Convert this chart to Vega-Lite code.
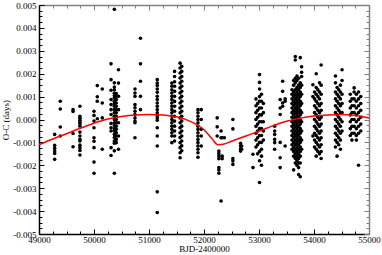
{
  "$schema": "https://vega.github.io/schema/vega-lite/v6.json",
  "width": 330,
  "height": 229,
  "autosize": {"type": "none"},
  "padding": {"left": 39, "top": 5, "right": 13, "bottom": 21},
  "background": "white",
  "config": {
    "view": {"stroke": null},
    "font": "Liberation Serif",
    "axis": {"grid": false, "labelFont": "Liberation Serif", "titleFont": "Liberation Serif", "labelFontSize": 9, "titleFontSize": 9, "titleFontWeight": "normal", "labelColor": "black", "titleColor": "black", "domainColor": "black", "tickColor": "black", "labelFlush": false, "labelOverlap": false, "labelBound": false}
  },
  "datasets": {
    "obs": [
      {"t":49285,"oc":-0.00065},{"t":49285,"oc":-0.00113},{"t":49285,"oc":-0.00126},{"t":49285,"oc":-0.00138},{"t":49285,"oc":-0.00148},{"t":49285,"oc":-0.00174},
      {"t":49387,"oc":0.0008},{"t":49387,"oc":0.00046},{"t":49387,"oc":-0.00033},{"t":49387,"oc":-0.00072},
      {"t":49619,"oc":0.00043},{"t":49619,"oc":0.00035},{"t":49619,"oc":-0.00061},{"t":49619,"oc":-0.00119},
      {"t":49744,"oc":0.00058},{"t":49744,"oc":0.00014},{"t":49744,"oc":0.00006},{"t":49744,"oc":-0.00003},{"t":49744,"oc":-0.00012},{"t":49744,"oc":-0.0002},{"t":49744,"oc":-0.00029},{"t":49744,"oc":-0.00055},{"t":49744,"oc":-0.00072},{"t":49744,"oc":-0.00087},{"t":49744,"oc":-0.00094},{"t":49744,"oc":-0.00112},{"t":49744,"oc":-0.00123},{"t":49744,"oc":-0.00135},{"t":49744,"oc":-0.00155},
      {"t":50000,"oc":0.00036},{"t":50000,"oc":0.00018},{"t":50000,"oc":-0.00007},{"t":50000,"oc":-0.00036},{"t":50000,"oc":-0.0008},{"t":50000,"oc":-0.00095},{"t":50000,"oc":-0.00123},{"t":50000,"oc":-0.00186},{"t":50000,"oc":-0.00235},
      {"t":50060,"oc":0.00148},{"t":50060,"oc":0.00099},{"t":50060,"oc":0.0008},{"t":50060,"oc":0.00003},
      {"t":50150,"oc":0.00133},{"t":50150,"oc":0.00072},{"t":50150,"oc":0.00007},{"t":50150,"oc":-0.0013},
      {"t":50310,"oc":0.00243},{"t":50310,"oc":0.00174},{"t":50310,"oc":0.00128},{"t":50310,"oc":0.00087},{"t":50310,"oc":0.00065},{"t":50310,"oc":0.00043},{"t":50310,"oc":0.00022},{"t":50310,"oc":-0.00017},{"t":50310,"oc":-0.00036},{"t":50310,"oc":-0.0005},{"t":50310,"oc":-0.00123},{"t":50310,"oc":-0.00157},
      {"t":50370,"oc":0.00481},{"t":50370,"oc":0.0016},{"t":50370,"oc":0.00142},{"t":50370,"oc":0.0013},{"t":50370,"oc":0.00115},{"t":50370,"oc":0.00104},{"t":50370,"oc":0.00094},{"t":50370,"oc":0.0008},{"t":50370,"oc":0.0007},{"t":50370,"oc":0.00058},{"t":50370,"oc":0.00043},{"t":50370,"oc":0.00029},{"t":50370,"oc":0.00014},{"t":50370,"oc":0},{"t":50370,"oc":-0.00014},{"t":50370,"oc":-0.00026},{"t":50370,"oc":-0.0004},{"t":50370,"oc":-0.0005},{"t":50370,"oc":-0.00065},{"t":50370,"oc":-0.00079},{"t":50370,"oc":-0.00094},{"t":50370,"oc":-0.00104},{"t":50370,"oc":-0.00137},{"t":50370,"oc":-0.00235},
      {"t":50405,"oc":0.00113},{"t":50405,"oc":0.00087},{"t":50405,"oc":0.00058},{"t":50405,"oc":0.00029},{"t":50405,"oc":0},{"t":50405,"oc":-0.00029},{"t":50405,"oc":-0.00058},{"t":50405,"oc":-0.00087},{"t":50405,"oc":-0.00101},{"t":50405,"oc":0.00101},{"t":50405,"oc":0.00072},{"t":50405,"oc":0.00043},{"t":50405,"oc":0.00014},{"t":50405,"oc":-0.00014},{"t":50405,"oc":-0.00043},{"t":50405,"oc":-0.00072},
      {"t":50445,"oc":0.00217},{"t":50445,"oc":0.00159},{"t":50445,"oc":0.00101},{"t":50445,"oc":0.00043},{"t":50445,"oc":-0.00014},{"t":50445,"oc":-0.00072},{"t":50445,"oc":-0.0013},
      {"t":50745,"oc":0.00133},{"t":50745,"oc":0.00116},{"t":50745,"oc":0.00101},{"t":50745,"oc":0.00065},{"t":50745,"oc":0.00051},{"t":50745,"oc":0.00036},{"t":50745,"oc":0.00022},{"t":50745,"oc":0.00007},{"t":50745,"oc":-0.00007},{"t":50745,"oc":-0.00014},{"t":50745,"oc":-0.0008},
      {"t":50845,"oc":0.00355},{"t":50845,"oc":0.00243},{"t":50845,"oc":0.00167},{"t":50845,"oc":0.00101},{"t":50845,"oc":0.00043},
      {"t":51150,"oc":0.00174},{"t":51150,"oc":0.00159},{"t":51150,"oc":0.00148},{"t":51150,"oc":0.00133},{"t":51150,"oc":0.00119},{"t":51150,"oc":0.00101},{"t":51150,"oc":0.00087},{"t":51150,"oc":0.00072},{"t":51150,"oc":0.00058},{"t":51150,"oc":0.00043},{"t":51150,"oc":0.00029},{"t":51150,"oc":0.00017},{"t":51150,"oc":0.00007},{"t":51150,"oc":-0.00003},{"t":51150,"oc":-0.00036},{"t":51150,"oc":-0.00072},{"t":51150,"oc":-0.00116},{"t":51150,"oc":-0.00316},{"t":51150,"oc":-0.00406},
      {"t":51415,"oc":0.00159},{"t":51415,"oc":0.00145},{"t":51415,"oc":0.0013},{"t":51415,"oc":0.00116},{"t":51415,"oc":0.00101},{"t":51415,"oc":0.00087},{"t":51415,"oc":0.00072},{"t":51415,"oc":0.00058},{"t":51415,"oc":0.00043},{"t":51415,"oc":0.00029},{"t":51415,"oc":0.00014},{"t":51415,"oc":0},{"t":51415,"oc":-0.00014},{"t":51415,"oc":-0.00029},{"t":51415,"oc":-0.00043},{"t":51415,"oc":-0.00058},{"t":51415,"oc":-0.00072},{"t":51415,"oc":-0.00101},
      {"t":51465,"oc":0.0021},{"t":51465,"oc":0.00188},{"t":51465,"oc":0.00165},{"t":51465,"oc":0.00145},{"t":51465,"oc":0.00123},{"t":51465,"oc":0.00101},{"t":51465,"oc":0.00079},{"t":51465,"oc":0.00058},{"t":51465,"oc":0.00036},{"t":51465,"oc":0.00014},{"t":51465,"oc":-0.00007},{"t":51465,"oc":-0.00029},{"t":51465,"oc":-0.0005},{"t":51465,"oc":-0.00072},{"t":51465,"oc":-0.00094},
      {"t":51565,"oc":0.00246},{"t":51565,"oc":0.00225},{"t":51565,"oc":0.00203},{"t":51565,"oc":0.00181},{"t":51565,"oc":0.00159},{"t":51565,"oc":0.00138},{"t":51565,"oc":0.00116},{"t":51565,"oc":0.00094},{"t":51565,"oc":0.00072},{"t":51565,"oc":0.0005},{"t":51565,"oc":0.00029},{"t":51565,"oc":0.00007},{"t":51565,"oc":-0.00014},{"t":51565,"oc":-0.00036},{"t":51565,"oc":-0.00058},{"t":51565,"oc":-0.00079},{"t":51565,"oc":-0.00101},{"t":51565,"oc":-0.00123},{"t":51565,"oc":-0.00145},{"t":51565,"oc":-0.00167},
      {"t":51595,"oc":0.00232},{"t":51595,"oc":0.0021},{"t":51595,"oc":0.00188},{"t":51595,"oc":0.00167},{"t":51595,"oc":0.00145},{"t":51595,"oc":0.00123},{"t":51595,"oc":0.00101},{"t":51595,"oc":0.0008},{"t":51595,"oc":0.00058},{"t":51595,"oc":0.00036},{"t":51595,"oc":0.00014},{"t":51595,"oc":-0.00007},{"t":51595,"oc":-0.00029},{"t":51595,"oc":-0.0005},{"t":51595,"oc":-0.00072},{"t":51595,"oc":-0.00094},{"t":51595,"oc":-0.00115},{"t":51595,"oc":-0.00137},
      {"t":51890,"oc":0.00043},{"t":51890,"oc":0.00029},{"t":51890,"oc":0.00014},{"t":51890,"oc":0},{"t":51890,"oc":-0.00014},{"t":51890,"oc":-0.00029},{"t":51890,"oc":-0.00043},{"t":51890,"oc":-0.00058},{"t":51890,"oc":-0.00072},{"t":51890,"oc":-0.00087},{"t":51890,"oc":-0.00101},{"t":51890,"oc":-0.00116},{"t":51890,"oc":-0.0013},{"t":51890,"oc":-0.00145},{"t":51890,"oc":-0.00165},
      {"t":51950,"oc":0.00043},{"t":51950,"oc":0},{"t":51950,"oc":-0.00043},{"t":51950,"oc":-0.00072},{"t":51950,"oc":-0.00116},
      {"t":52240,"oc":0.00007},{"t":52240,"oc":-0.00032},{"t":52240,"oc":-0.00072},
      {"t":52270,"oc":-0.00138},{"t":52270,"oc":-0.00148},{"t":52270,"oc":-0.00159},{"t":52270,"oc":-0.00171},{"t":52270,"oc":-0.0021},{"t":52270,"oc":-0.0022},{"t":52270,"oc":-0.00235},
      {"t":52310,"oc":-0.0005},{"t":52310,"oc":-0.0008},{"t":52310,"oc":-0.00356},
      {"t":52330,"oc":-0.0008},{"t":52330,"oc":-0.0016},{"t":52330,"oc":-0.00171},
      {"t":52370,"oc":-0.0008},
      {"t":52525,"oc":0},{"t":52525,"oc":-0.00041},{"t":52525,"oc":-0.00171},{"t":52525,"oc":-0.00181},{"t":52525,"oc":-0.00196},
      {"t":52665,"oc":-0.00104},{"t":52665,"oc":-0.00116},{"t":52665,"oc":-0.00128},{"t":52665,"oc":-0.00138},
      {"t":52685,"oc":-0.00116},{"t":52685,"oc":-0.0013},
      {"t":52890,"oc":-0.00152},{"t":52890,"oc":-0.0021},
      {"t":52945,"oc":0.0009},{"t":52945,"oc":0.0006},{"t":52945,"oc":0.0003},{"t":52945,"oc":0},{"t":52945,"oc":-0.0003},{"t":52945,"oc":-0.0006},{"t":52945,"oc":-0.0009},{"t":52945,"oc":-0.0012},
      {"t":52975,"oc":0.0007},{"t":52975,"oc":0.0004},{"t":52975,"oc":0.0001},{"t":52975,"oc":-0.0002},{"t":52975,"oc":-0.0005},{"t":52975,"oc":-0.0008},{"t":52975,"oc":-0.0011},{"t":52975,"oc":-0.0015},
      {"t":53010,"oc":0.00196},{"t":53010,"oc":0.00162},{"t":53010,"oc":0.00133},{"t":53010,"oc":0.001},{"t":53010,"oc":0.0008},{"t":53010,"oc":0.0005},{"t":53010,"oc":0.0002},{"t":53010,"oc":-0.0001},{"t":53010,"oc":-0.0004},{"t":53010,"oc":-0.0007},{"t":53010,"oc":-0.001},{"t":53010,"oc":-0.0014},{"t":53010,"oc":-0.0018},{"t":53010,"oc":-0.00275},
      {"t":53045,"oc":0.0011},{"t":53045,"oc":0.0008},{"t":53045,"oc":0.0005},{"t":53045,"oc":0.0002},{"t":53045,"oc":-0.0001},{"t":53045,"oc":-0.0004},{"t":53045,"oc":-0.0007},{"t":53045,"oc":-0.001},{"t":53045,"oc":-0.0013},{"t":53045,"oc":-0.0016},{"t":53045,"oc":-0.002},
      {"t":53080,"oc":0.0007},{"t":53080,"oc":0.0003},{"t":53080,"oc":-0.0001},{"t":53080,"oc":-0.0005},{"t":53080,"oc":-0.0009},
      {"t":53285,"oc":-0.00029},{"t":53285,"oc":-0.0005},{"t":53285,"oc":-0.00065},{"t":53285,"oc":-0.00087},{"t":53285,"oc":-0.00101},{"t":53285,"oc":-0.0013},
      {"t":53385,"oc":0.00087},{"t":53385,"oc":0.0005},{"t":53385,"oc":0.00022},{"t":53385,"oc":-0.001},{"t":53385,"oc":-0.00167},{"t":53385,"oc":-0.0021},
      {"t":53430,"oc":0.00167},{"t":53430,"oc":0.00123},{"t":53430,"oc":0.00072},{"t":53430,"oc":0.00058},
      {"t":53475,"oc":0.0009},{"t":53475,"oc":0.0008},{"t":53475,"oc":-0.00116},
      {"t":53600,"oc":0.0013},{"t":53600,"oc":0.0011},{"t":53600,"oc":0.0009},{"t":53600,"oc":0.0007},{"t":53600,"oc":0.0005},{"t":53600,"oc":0.0003},{"t":53600,"oc":0.0001},{"t":53600,"oc":-0.0001},{"t":53600,"oc":-0.0003},{"t":53600,"oc":-0.0005},{"t":53600,"oc":-0.0007},{"t":53600,"oc":-0.0009},{"t":53600,"oc":-0.0011},{"t":53600,"oc":-0.0013},
      {"t":53630,"oc":0.0017},{"t":53630,"oc":0.0015},{"t":53630,"oc":0.0012},{"t":53630,"oc":0.001},{"t":53630,"oc":0.0008},{"t":53630,"oc":0.0006},{"t":53630,"oc":0.0004},{"t":53630,"oc":0.0002},{"t":53630,"oc":0},{"t":53630,"oc":-0.0002},{"t":53630,"oc":-0.0004},{"t":53630,"oc":-0.0006},{"t":53630,"oc":-0.0008},{"t":53630,"oc":-0.001},{"t":53630,"oc":-0.0012},{"t":53630,"oc":-0.0014},{"t":53630,"oc":-0.0016},{"t":53630,"oc":-0.0022},
      {"t":53660,"oc":0.00275},{"t":53660,"oc":0.0026},{"t":53660,"oc":0.0018},{"t":53660,"oc":0.0016},{"t":53660,"oc":0.0013},{"t":53660,"oc":0.0011},{"t":53660,"oc":0.0009},{"t":53660,"oc":0.0007},{"t":53660,"oc":0.0005},{"t":53660,"oc":0.0003},{"t":53660,"oc":0.0001},{"t":53660,"oc":-0.0001},{"t":53660,"oc":-0.0003},{"t":53660,"oc":-0.0005},{"t":53660,"oc":-0.0007},{"t":53660,"oc":-0.0009},{"t":53660,"oc":-0.0011},{"t":53660,"oc":-0.0013},{"t":53660,"oc":-0.0015},{"t":53660,"oc":-0.0017},{"t":53660,"oc":-0.0019},
      {"t":53690,"oc":0.0019},{"t":53690,"oc":0.0017},{"t":53690,"oc":0.0014},{"t":53690,"oc":0.0012},{"t":53690,"oc":0.001},{"t":53690,"oc":0.0008},{"t":53690,"oc":0.0006},{"t":53690,"oc":0.0004},{"t":53690,"oc":0.0002},{"t":53690,"oc":0},{"t":53690,"oc":-0.0002},{"t":53690,"oc":-0.0004},{"t":53690,"oc":-0.0006},{"t":53690,"oc":-0.0008},{"t":53690,"oc":-0.001},{"t":53690,"oc":-0.0012},{"t":53690,"oc":-0.0014},{"t":53690,"oc":-0.0016},{"t":53690,"oc":-0.0018},{"t":53690,"oc":-0.002},
      {"t":53720,"oc":0.0018},{"t":53720,"oc":0.0015},{"t":53720,"oc":0.0013},{"t":53720,"oc":0.0011},{"t":53720,"oc":0.0009},{"t":53720,"oc":0.0007},{"t":53720,"oc":0.0005},{"t":53720,"oc":0.0003},{"t":53720,"oc":0.0001},{"t":53720,"oc":-0.0001},{"t":53720,"oc":-0.0003},{"t":53720,"oc":-0.0005},{"t":53720,"oc":-0.0007},{"t":53720,"oc":-0.0009},{"t":53720,"oc":-0.0011},{"t":53720,"oc":-0.0013},{"t":53720,"oc":-0.0015},{"t":53720,"oc":-0.0017},{"t":53720,"oc":-0.0019},{"t":53720,"oc":-0.0021},{"t":53720,"oc":-0.0024},
      {"t":53750,"oc":0.0027},{"t":53750,"oc":0.0016},{"t":53750,"oc":0.0014},{"t":53750,"oc":0.0012},{"t":53750,"oc":0.001},{"t":53750,"oc":0.0008},{"t":53750,"oc":0.0006},{"t":53750,"oc":0.0004},{"t":53750,"oc":0.0002},{"t":53750,"oc":0},{"t":53750,"oc":-0.0002},{"t":53750,"oc":-0.0004},{"t":53750,"oc":-0.0006},{"t":53750,"oc":-0.0008},{"t":53750,"oc":-0.001},{"t":53750,"oc":-0.0012},{"t":53750,"oc":-0.0014},{"t":53750,"oc":-0.0016},{"t":53750,"oc":-0.0019},{"t":53750,"oc":-0.0025},
      {"t":53775,"oc":0.0023},{"t":53775,"oc":0.00206},{"t":53775,"oc":0.00188},{"t":53775,"oc":0.0015},{"t":53775,"oc":0.0011},{"t":53775,"oc":0.0007},{"t":53775,"oc":0.0003},{"t":53775,"oc":-0.0001},{"t":53775,"oc":-0.0005},{"t":53775,"oc":-0.0009},{"t":53775,"oc":-0.0013},
      {"t":53980,"oc":0.00152},{"t":53980,"oc":0.001},{"t":53980,"oc":-0.00072},
      {"t":54010,"oc":0.0012},{"t":54010,"oc":0.0009},{"t":54010,"oc":0.0006},{"t":54010,"oc":0.0003},{"t":54010,"oc":0},{"t":54010,"oc":-0.0003},{"t":54010,"oc":-0.0006},{"t":54010,"oc":-0.0009},{"t":54010,"oc":-0.0012},
      {"t":54040,"oc":0.002},{"t":54040,"oc":0.0014},{"t":54040,"oc":0.0011},{"t":54040,"oc":0.0008},{"t":54040,"oc":0.0005},{"t":54040,"oc":0.0002},{"t":54040,"oc":-0.0001},{"t":54040,"oc":-0.0004},{"t":54040,"oc":-0.0007},{"t":54040,"oc":-0.001},{"t":54040,"oc":-0.0013},{"t":54040,"oc":-0.0016},
      {"t":54070,"oc":0.0013},{"t":54070,"oc":0.001},{"t":54070,"oc":0.0007},{"t":54070,"oc":0.0004},{"t":54070,"oc":0.0001},{"t":54070,"oc":-0.0002},{"t":54070,"oc":-0.0005},{"t":54070,"oc":-0.0008},{"t":54070,"oc":-0.0011},{"t":54070,"oc":-0.0014},
      {"t":54100,"oc":0.0016},{"t":54100,"oc":0.0012},{"t":54100,"oc":0.0009},{"t":54100,"oc":0.0006},{"t":54100,"oc":0.0003},{"t":54100,"oc":0},{"t":54100,"oc":-0.0003},{"t":54100,"oc":-0.0006},{"t":54100,"oc":-0.0009},{"t":54100,"oc":-0.0012},{"t":54100,"oc":-0.0015},
      {"t":54130,"oc":0.00238},{"t":54130,"oc":0.0015},{"t":54130,"oc":0.0011},{"t":54130,"oc":0.0007},{"t":54130,"oc":0.0004},{"t":54130,"oc":0.0001},{"t":54130,"oc":-0.0002},{"t":54130,"oc":-0.0005},{"t":54130,"oc":-0.0008},{"t":54130,"oc":-0.0011},{"t":54130,"oc":-0.0014},{"t":54130,"oc":-0.0017},
      {"t":54390,"oc":0.0019},{"t":54390,"oc":0.0016},{"t":54390,"oc":0.0012},{"t":54390,"oc":0.0009},{"t":54390,"oc":0.0006},{"t":54390,"oc":0.0003},{"t":54390,"oc":0},{"t":54390,"oc":-0.0003},{"t":54390,"oc":-0.0006},{"t":54390,"oc":-0.0009},{"t":54390,"oc":-0.0012},
      {"t":54420,"oc":0.0014},{"t":54420,"oc":0.0011},{"t":54420,"oc":0.0008},{"t":54420,"oc":0.0005},{"t":54420,"oc":0.0002},{"t":54420,"oc":-0.0001},{"t":54420,"oc":-0.0004},{"t":54420,"oc":-0.0007},{"t":54420,"oc":-0.001},{"t":54420,"oc":-0.0016},
      {"t":54450,"oc":0.0013},{"t":54450,"oc":0.001},{"t":54450,"oc":0.0007},{"t":54450,"oc":0.0004},{"t":54450,"oc":0.0001},{"t":54450,"oc":-0.0002},{"t":54450,"oc":-0.0005},{"t":54450,"oc":-0.0008},{"t":54450,"oc":-0.0011},
      {"t":54480,"oc":0.0015},{"t":54480,"oc":0.0012},{"t":54480,"oc":0.0009},{"t":54480,"oc":0.0006},{"t":54480,"oc":0.0003},{"t":54480,"oc":0},{"t":54480,"oc":-0.0003},{"t":54480,"oc":-0.0006},{"t":54480,"oc":-0.0009},{"t":54480,"oc":-0.0013},
      {"t":54510,"oc":0.00217},{"t":54510,"oc":0.0017},{"t":54510,"oc":0.0011},{"t":54510,"oc":0.0007},{"t":54510,"oc":0.0003},{"t":54510,"oc":-0.0001},{"t":54510,"oc":-0.0005},
      {"t":54660,"oc":0.0011},{"t":54660,"oc":0.0008},{"t":54660,"oc":0.0005},{"t":54660,"oc":0.0002},{"t":54660,"oc":-0.0001},{"t":54660,"oc":-0.0004},{"t":54660,"oc":-0.0007},
      {"t":54690,"oc":0.0009},{"t":54690,"oc":0.0006},{"t":54690,"oc":0.0003},{"t":54690,"oc":0},{"t":54690,"oc":-0.0003},{"t":54690,"oc":-0.0006},{"t":54690,"oc":-0.0009},
      {"t":54730,"oc":0.00138},{"t":54730,"oc":0.0012},{"t":54730,"oc":0.0009},{"t":54730,"oc":0.0006},{"t":54730,"oc":0.0003},{"t":54730,"oc":0},{"t":54730,"oc":-0.0003},{"t":54730,"oc":-0.0006},
      {"t":54770,"oc":0.0011},{"t":54770,"oc":0.0008},{"t":54770,"oc":0.0005},{"t":54770,"oc":0.0002},{"t":54770,"oc":-0.0001},{"t":54770,"oc":-0.0004},{"t":54770,"oc":-0.0007},{"t":54770,"oc":-0.0009},
      {"t":54810,"oc":0.0012},{"t":54810,"oc":0.0009},{"t":54810,"oc":0.0006},{"t":54810,"oc":0.0003},{"t":54810,"oc":0},{"t":54810,"oc":-0.0003},{"t":54810,"oc":-0.0006},{"t":54810,"oc":-0.002},
      {"t":54850,"oc":0.001},{"t":54850,"oc":0.0007},{"t":54850,"oc":0.0004},{"t":54850,"oc":0.0001},{"t":54850,"oc":-0.0002},{"t":54850,"oc":-0.0005}
    ],
    "fit": [
      {"t":49000,"oc":-0.0011},{"t":49250,"oc":-0.00085},{"t":49500,"oc":-0.00062},{"t":49750,"oc":-0.00038},{"t":50000,"oc":-0.00016},{"t":50250,"oc":0.00002},{"t":50500,"oc":0.00013},{"t":50750,"oc":0.0002},{"t":51000,"oc":0.00022},{"t":51250,"oc":0.0002},{"t":51500,"oc":0.00012},{"t":51750,"oc":-0.00008},{"t":52000,"oc":-0.00045},{"t":52150,"oc":-0.00085},{"t":52250,"oc":-0.0011},{"t":52350,"oc":-0.00108},{"t":52500,"oc":-0.00095},{"t":52750,"oc":-0.00073},{"t":53000,"oc":-0.00051},{"t":53250,"oc":-0.00028},{"t":53500,"oc":-0.00008},{"t":53750,"oc":0.00006},{"t":54000,"oc":0.00015},{"t":54250,"oc":0.0002},{"t":54500,"oc":0.00022},{"t":54750,"oc":0.00017},{"t":55000,"oc":0.00007}
    ]
  },
  "layer": [
    {
      "data": {"name": "obs"},
      "mark": {"type": "circle", "size": 13, "color": "black", "opacity": 1},
      "encoding": {
        "x": {"field": "t", "type": "quantitative", "scale": {"domain": [49000, 55000], "nice": false, "zero": false},
          "axis": {"orient": "bottom", "title": "BJD-2400000", "titlePadding": -2,
            "values": [49000,49250,49500,49750,50000,50250,50500,50750,51000,51250,51500,51750,52000,52250,52500,52750,53000,53250,53500,53750,54000,54250,54500,54750,55000],
            "labelExpr": "datum.value % 1000 === 0 ? format(datum.value, 'd') : ''",
            "tickSize": {"condition": {"test": "datum.value % 1000 === 0", "value": -5}, "value": -3},
            "labelPadding": 6, "domainWidth": 1.5, "tickWidth": 1}},
        "y": {"field": "oc", "type": "quantitative", "scale": {"domain": [-0.005, 0.005], "nice": false, "zero": false},
          "axis": {"orient": "left", "title": "O-C (days)", "titlePadding": 2,
            "values": [-0.005,-0.00475,-0.0045,-0.00425,-0.004,-0.00375,-0.0035,-0.00325,-0.003,-0.00275,-0.0025,-0.00225,-0.002,-0.00175,-0.0015,-0.00125,-0.001,-0.00075,-0.0005,-0.00025,0,0.00025,0.0005,0.00075,0.001,0.00125,0.0015,0.00175,0.002,0.00225,0.0025,0.00275,0.003,0.00325,0.0035,0.00375,0.004,0.00425,0.0045,0.00475,0.005],
            "labelExpr": "abs(datum.value*1000 - round(datum.value*1000)) < 0.001 ? replace(format(datum.value, '.3f'), '\u2212', '-') : ''",
            "tickSize": {"condition": {"test": "abs(datum.value*1000 - round(datum.value*1000)) < 0.001", "value": -5}, "value": -3},
            "labelPadding": 8, "domainWidth": 1.5, "tickWidth": 1}}
      }
    },
    {
      "data": {"name": "fit"},
      "mark": {"type": "line", "color": "#ff0000", "strokeWidth": 1.5, "interpolate": "monotone"},
      "encoding": {
        "x": {"field": "t", "type": "quantitative",
          "axis": {"orient": "top", "title": null, "labels": false, "domainColor": "#808080", "tickColor": "#808080", "domainWidth": 1.5,
            "values": [49000,49250,49500,49750,50000,50250,50500,50750,51000,51250,51500,51750,52000,52250,52500,52750,53000,53250,53500,53750,54000,54250,54500,54750,55000],
            "tickSize": {"condition": {"test": "datum.value % 1000 === 0", "value": -5}, "value": -3}}},
        "y": {"field": "oc", "type": "quantitative",
          "axis": {"orient": "right", "title": null, "labels": false, "domainColor": "#808080", "tickColor": "#808080", "domainWidth": 1.5,
            "values": [-0.005,-0.00475,-0.0045,-0.00425,-0.004,-0.00375,-0.0035,-0.00325,-0.003,-0.00275,-0.0025,-0.00225,-0.002,-0.00175,-0.0015,-0.00125,-0.001,-0.00075,-0.0005,-0.00025,0,0.00025,0.0005,0.00075,0.001,0.00125,0.0015,0.00175,0.002,0.00225,0.0025,0.00275,0.003,0.00325,0.0035,0.00375,0.004,0.00425,0.0045,0.00475,0.005],
            "tickSize": {"condition": {"test": "abs(datum.value*1000 - round(datum.value*1000)) < 0.001", "value": -5}, "value": -3}}}
      }
    }
  ],
  "resolve": {"axis": {"x": "independent", "y": "independent"}}
}
